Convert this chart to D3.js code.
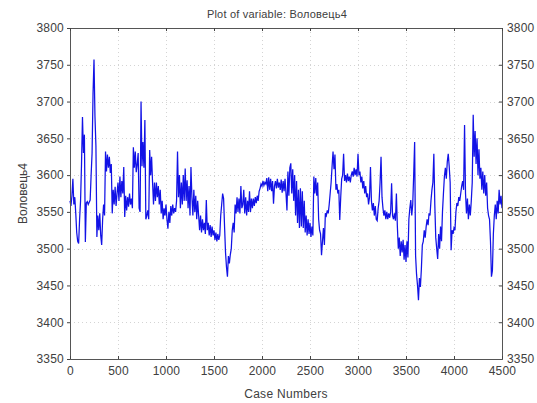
<!DOCTYPE html>
<html><head><meta charset="utf-8">
<script src="https://cdn.jsdelivr.net/npm/d3@7/dist/d3.min.js"></script>
<style>
body{margin:0;background:#fff;}
text{font-family:"Liberation Sans",Arial,sans-serif;fill:#404040;}
</style>
</head><body>
<svg id="chart" width="537" height="403"></svg>
<script>
const titleText = "Plot of variable: Воловець4";
const yLabelText = "Воловець4";
const xLabelText = "Case Numbers";
const xTickValues = [0, 500, 1000, 1500, 2000, 2500, 3000, 3500, 4000, 4500];
const yTickValues = [3350, 3400, 3450, 3500, 3550, 3600, 3650, 3700, 3750, 3800];
const caseStep = 10;
const values = [
3565,3558,3572,3595,3560,3570,3548,3522,3510,3507,
3540,3565,3615,3679,3630,3655,3509,3562,3564,3560,
3563,3566,3600,3630,3711,3757,3680,3640,3516,3545,
3525,3548,3518,3505,3540,3560,3545,3632,3605,3628,
3610,3625,3603,3615,3548,3580,3560,3584,3558,3575,
3590,3565,3598,3570,3592,3575,3611,3543,3572,3552,
3570,3557,3575,3560,3568,3555,3638,3610,3632,3604,
3615,3630,3555,3550,3700,3612,3645,3610,3675,3540,
3545,3552,3540,3634,3600,3625,3590,3560,3590,3565,
3590,3570,3585,3560,3580,3548,3565,3540,3555,3545,
3560,3540,3527,3550,3535,3558,3545,3560,3548,3555,
3550,3565,3632,3570,3600,3555,3590,3560,3600,3565,
3609,3565,3593,3555,3585,3545,3611,3570,3545,3580,
3550,3572,3540,3565,3545,3525,3545,3522,3540,3525,
3535,3520,3566,3525,3535,3518,3532,3516,3530,3518,
3525,3512,3522,3510,3520,3512,3518,3545,3560,3575,
3568,3530,3495,3475,3462,3490,3480,3492,3500,3525,
3535,3522,3560,3548,3570,3550,3568,3548,3585,3555,
3560,3580,3548,3570,3545,3565,3550,3578,3550,3568,
3555,3568,3558,3570,3562,3572,3565,3578,3582,3588,
3585,3592,3586,3590,3588,3596,3578,3597,3580,3595,
3578,3592,3561,3585,3592,3582,3595,3583,3590,3580,
3594,3576,3592,3578,3595,3575,3552,3605,3572,3610,
3616,3575,3608,3565,3600,3545,3592,3535,3580,3528,
3582,3530,3578,3528,3565,3522,3545,3518,3540,3520,
3535,3516,3530,3518,3598,3575,3596,3572,3590,3540,
3525,3520,3491,3510,3528,3505,3548,3545,3552,3548,
3560,3575,3590,3612,3632,3608,3628,3580,3588,3575,
3580,3539,3570,3595,3600,3629,3592,3600,3590,3602,
3592,3598,3590,3600,3605,3598,3610,3600,3608,3598,
3629,3600,3605,3590,3598,3582,3592,3575,3585,3570,
3575,3560,3570,3611,3565,3552,3562,3545,3558,3540,
3538,3555,3565,3590,3625,3570,3555,3545,3552,3540,
3550,3540,3548,3542,3550,3589,3545,3540,3548,3538,
3575,3530,3500,3515,3490,3510,3495,3512,3485,3505,
3482,3510,3488,3540,3555,3566,3545,3560,3600,3645,
3490,3465,3450,3430,3460,3448,3472,3505,3510,3525,
3515,3530,3540,3532,3548,3545,3565,3580,3590,3629,
3560,3515,3500,3486,3520,3500,3530,3510,3550,3575,
3598,3610,3595,3618,3629,3612,3590,3498,3525,3520,
3528,3525,3550,3562,3558,3570,3565,3575,3585,3592,
3580,3668,3575,3548,3568,3540,3560,3545,3565,3590,
3682,3625,3660,3615,3650,3600,3635,3595,3610,3580,
3605,3575,3600,3572,3590,3555,3545,3540,3510,3462,
3470,3520,3545,3560,3540,3565,3548,3580,3560,3572,3555
];
const cases = values.map((v, i) => i * caseStep);

const svg = d3.select("#chart");
svg.append("rect").attr("width", 537).attr("height", 403).attr("fill", "#fff");

const x = d3.scaleLinear().domain([0, 4500]).range([70, 502]);
const y = d3.scaleLinear().domain([3350, 3800]).range([359, 28]);

// grid
const grid = svg.append("g").attr("stroke", "#d4d4d4").attr("stroke-width", 1).attr("stroke-dasharray", "1,3");
grid.selectAll(".vg").data(xTickValues.slice(1, -1)).join("line")
  .attr("x1", d => Math.round(x(d)) + 0.5).attr("x2", d => Math.round(x(d)) + 0.5)
  .attr("y1", y(3800)).attr("y2", y(3350));
grid.selectAll(".hg").data(yTickValues.slice(1, -1)).join("line")
  .attr("y1", d => Math.round(y(d)) + 0.5).attr("y2", d => Math.round(y(d)) + 0.5)
  .attr("x1", x(0)).attr("x2", x(4500));

// line
const line = d3.line().x((d, i) => x(cases[i])).y(d => y(d));
svg.append("path").datum(values).attr("d", line)
  .attr("fill", "none").attr("stroke", "#1212e6").attr("stroke-width", 1.25)
  .attr("stroke-linejoin", "miter");

// axes
const fmt = d3.format("d");
const styleAxis = g => {
  g.select(".domain").attr("stroke", "#555");
  g.selectAll(".tick line").attr("stroke", "#444");
  g.selectAll(".tick text").style("font-size", "12px").style("letter-spacing", "0.2px").attr("fill", "#404040");
};
svg.append("g").attr("transform", `translate(${x(0)},0)`)
  .call(d3.axisLeft(y).tickValues(yTickValues).tickFormat(fmt).tickSizeOuter(0).tickSize(3).tickPadding(3))
  .call(styleAxis);
svg.append("g").attr("transform", `translate(${x(4500)},0)`)
  .call(d3.axisRight(y).tickValues(yTickValues).tickFormat(fmt).tickSizeOuter(0).tickSize(-3).tickPadding(5))
  .call(styleAxis);
svg.append("g").attr("transform", `translate(0,${y(3350)})`)
  .call(d3.axisBottom(x).tickValues(xTickValues).tickFormat(fmt).tickSizeOuter(0).tickSize(-3).tickPadding(7))
  .call(styleAxis);
svg.append("g").attr("transform", `translate(0,${y(3800)})`)
  .call(d3.axisTop(x).tickValues(xTickValues).tickFormat("").tickSizeOuter(0).tickSize(-3))
  .call(styleAxis);

// titles
svg.append("text").attr("x", 277).attr("y", 18).attr("text-anchor", "middle")
  .style("font-size", "11px").style("letter-spacing", "0.2px").text(titleText);
svg.append("text").attr("x", 286).attr("y", 398).attr("text-anchor", "middle")
  .style("font-size", "12px").style("letter-spacing", "0.3px").text(xLabelText);
svg.append("text").attr("transform", `translate(27,${(y(3800) + y(3350)) / 2}) rotate(-90)`)
  .attr("text-anchor", "middle").style("font-size", "12px").text(yLabelText);
</script>
</body></html>
